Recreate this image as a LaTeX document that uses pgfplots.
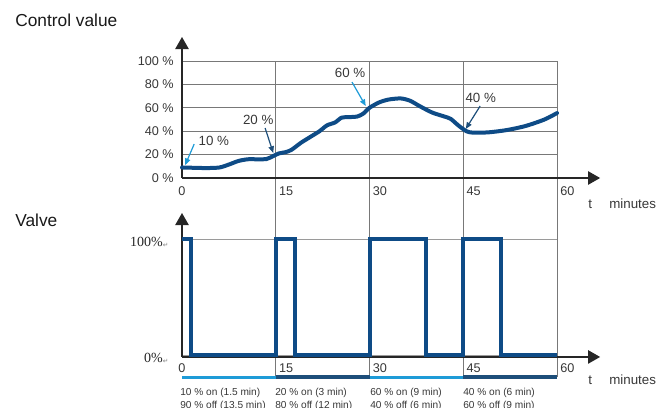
\documentclass[border=0pt]{standalone}
\usepackage{pgfplots}
\pgfplotsset{compat=1.18}
\usepackage{fontspec}
\setmainfont{Liberation Sans}
\newfontfamily\serifx{Liberation Serif}
\newfontfamily\dejavu{DejaVu Sans}
\usetikzlibrary{arrows.meta}
\definecolor{curve}{RGB}{14,75,134}
\definecolor{lblue}{RGB}{30,155,215}
\definecolor{dblue}{RGB}{29,78,122}
\definecolor{gridc}{RGB}{120,120,120}
\definecolor{txt}{RGB}{55,55,55}
\newcommand{\ret}{{\dejavu\fontsize{5}{5}\selectfont\color{gray}\raisebox{-0.3ex}{↵}}}
\begin{document}
\begin{tikzpicture}[x=0.75pt,y=0.75pt]
\path[use as bounding box] (0,0) rectangle (670,407);

% ---------- Valve ----------
\begin{axis}[
  at={(136.5pt,39pt)}, anchor=south west, scale only axis,
  width=281.25pt, height=87pt,
  xmin=0, xmax=60, ymin=0, ymax=1, clip=false,
  axis line style={draw=none}, major tick length=0pt,
  xtick={0,15,30,45,60}, xticklabels={\hspace*{-6pt}0,15,30,45,60},
  xticklabel style={anchor=west, inner sep=0pt, xshift=2.25pt, yshift=-9.75pt,
    font=\fontsize{9.5}{11}\selectfont, text=txt},
  ytick={0,1}, yticklabels={0\%\ret, 100\%\ret},
  yticklabel style={anchor=east, inner sep=0pt, xshift=-10pt, yshift=-2.25pt,
    font=\serifx\fontsize{10.5}{12}\selectfont, text=black!85},
  ymajorgrids, major grid style={gridc!75, line width=0.7pt},
]
\foreach \xx in {15,30,45,60}{
  \edef\tmp{\noexpand\draw[gridc, line width=0.7pt] (axis cs:\xx,-0.19) -- (axis cs:\xx,2.534);}\tmp
}
\addplot[lblue, line width=2.2pt] coordinates {(0,-0.19) (15,-0.19)};
\addplot[dblue, line width=2.6pt] coordinates {(15,-0.19) (30,-0.19)};
\addplot[lblue, line width=2.2pt] coordinates {(30,-0.19) (45,-0.19)};
\addplot[dblue, line width=2.6pt] coordinates {(45,-0.19) (60,-0.19)};
\draw[black!85, line width=1pt, -{Triangle[length=9pt,width=10pt]}] (axis cs:0,-0.017) -- (axis cs:0,1.224);
\draw[black!85, line width=1pt, -{Triangle[length=9pt,width=10pt]}] (axis cs:0,-0.017) -- (axis cs:66.9,-0.017);
\addplot[curve, line width=3pt, line join=miter] coordinates {
  (0,1) (1.5,1) (1.5,0) (15,0) (15,1) (18,1) (18,0) (30,0) (30,1) (39,1) (39,0)
  (45,0) (45,1) (51,1) (51,0) (60,0)};
\end{axis}

% ---------- Control value ----------
\begin{axis}[
  at={(136.5pt,171.75pt)}, anchor=south west, scale only axis,
  width=281.25pt, height=87.75pt,
  xmin=0, xmax=60, ymin=0, ymax=100, clip=false,
  axis line style={draw=none}, major tick length=0pt,
  xtick={0,15,30,45,60}, xticklabels={\hspace*{-6pt}0,15,30,45,60},
  xticklabel style={anchor=west, inner sep=0pt, xshift=2.25pt, yshift=-9.75pt,
    font=\fontsize{9.5}{11}\selectfont, text=txt},
  ytick={0,20,40,60,80,100},
  yticklabels={0 \%,20 \%,40 \%,60 \%,80 \%,100 \%},
  yticklabel style={anchor=east, inner sep=0pt, xshift=-6pt,
    font=\fontsize{9.5}{11}\selectfont, text=txt},
  grid=major, major grid style={gridc, line width=0.7pt},
]
\draw[black!85, line width=1pt, -{Triangle[length=9pt,width=10pt]}] (axis cs:0,0) -- (axis cs:0,120.5);
\draw[black!85, line width=1pt, -{Triangle[length=9pt,width=10pt]}] (axis cs:0,0) -- (axis cs:66.9,0);
\addplot[curve, line width=3pt, smooth, tension=0.45, line cap=round] coordinates {
  (0,9) (2,8.7) (4,8.5) (6,9) (7.5,11.5) (9,14.5) (10.5,16) (12,16) (13.5,16.2)
  (14.5,18.5) (15.5,21) (16.5,22) (17.5,24) (19,30) (20.5,35) (22,40) (23.2,45)
  (24.5,47.5) (25.5,51.5) (26.5,52) (28,52.5) (29,55) (30,60) (31.5,64.5) (33,67)
  (35,68) (36.5,66) (38,61.5) (40,56) (42,52.5) (43,50.5) (44.2,45) (45.5,40)
  (46.5,38.8) (49,39) (52,41) (55,44.5) (58,50) (60,55.5)};
\node[font=\fontsize{10}{12}\selectfont, text=txt] at (axis cs:5.1,31.6) {10 \%};
\node[font=\fontsize{10}{12}\selectfont, text=txt] at (axis cs:12.2,49.6) {20 \%};
\node[font=\fontsize{10}{12}\selectfont, text=txt] at (axis cs:26.9,89.7) {60 \%};
\node[font=\fontsize{10}{12}\selectfont, text=txt] at (axis cs:47.8,68.4) {40 \%};
\draw[lblue, line width=0.9pt, -{Triangle[length=5pt,width=4pt]}] (axis cs:1.95,29) -- (axis cs:0.5,11);
\draw[dblue, line width=0.9pt, -{Triangle[length=5pt,width=4pt]}] (axis cs:13.3,42.7) -- (axis cs:14.6,21.4);
\draw[lblue, line width=0.9pt, -{Triangle[length=5pt,width=4pt]}] (axis cs:27.2,82) -- (axis cs:29.4,61.5);
\draw[dblue, line width=0.9pt, -{Triangle[length=5pt,width=4pt]}] (axis cs:47.7,61.5) -- (axis cs:45.4,41.9);
\end{axis}

% ---------- texts ----------
\node[anchor=base west, inner sep=0pt, font=\fontsize{13}{15}\selectfont, text=black!90] at (15,380) {Control value};
\node[anchor=base west, inner sep=0pt, font=\fontsize{13}{15}\selectfont, text=black!90] at (15,180) {Valve};
\node[anchor=base west, inner sep=0pt, font=\fontsize{10}{12}\selectfont, text=txt] at (588,198) {t};
\node[anchor=base west, inner sep=0pt, font=\fontsize{10}{12}\selectfont, text=txt] at (609,198) {minutes};
\node[anchor=base west, inner sep=0pt, font=\fontsize{10}{12}\selectfont, text=txt] at (588,23) {t};
\node[anchor=base west, inner sep=0pt, font=\fontsize{10}{12}\selectfont, text=txt] at (609,23) {minutes};
\foreach \xp/\la/\lb in {180/{10 \% on (1.5 min)}/{90 \% off (13.5 min)},
                         275/{20 \% on (3 min)}/{80 \% off (12 min)},
                         370/{60 \% on (9 min)}/{40 \% off (6 min)},
                         463/{40 \% on (6 min)}/{60 \% off (9 min)}}{
  \node[anchor=base west, inner sep=0pt, font=\fontsize{7.6}{9}\selectfont, text=txt] at (\xp,12) {\la};
  \node[anchor=base west, inner sep=0pt, font=\fontsize{7.6}{9}\selectfont, text=txt] at (\xp,-1.5) {\lb};
}
\end{tikzpicture}
\end{document}
